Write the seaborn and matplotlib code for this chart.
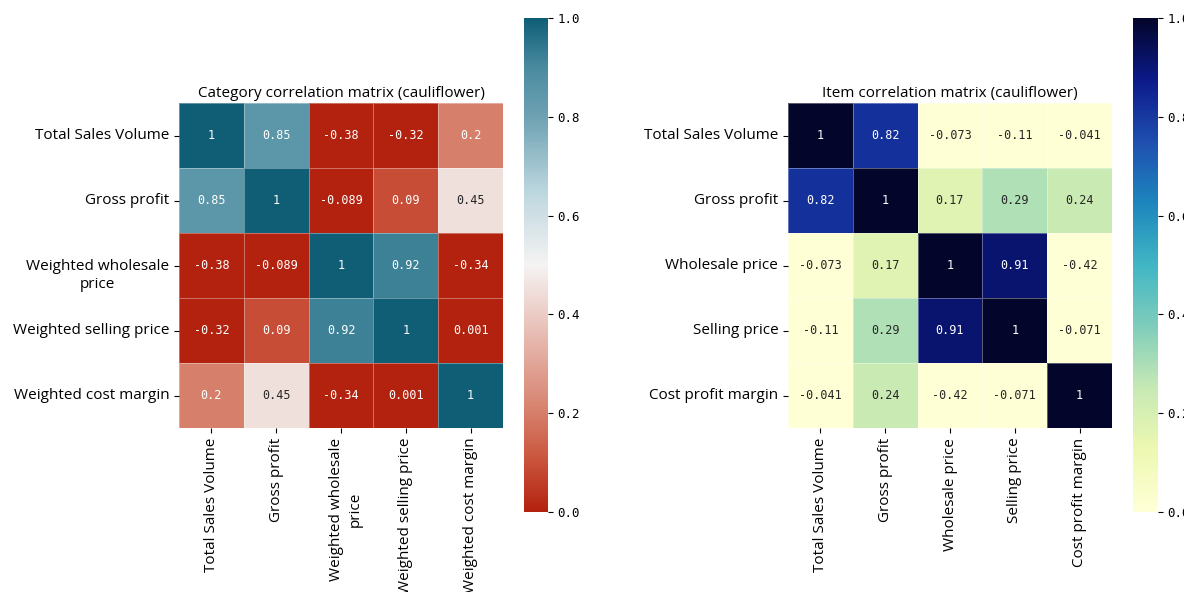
import numpy as np
import pandas as pd
import matplotlib
matplotlib.use("Agg")
import matplotlib.pyplot as plt
import matplotlib.transforms as mtransforms
import seaborn as sns
from matplotlib.colors import LinearSegmentedColormap

# Category-level correlation matrix
category_labels = [
    "Total Sales Volume",
    "Gross profit",
    "Weighted wholesale\nprice",
    "Weighted selling price",
    "Weighted cost margin",
]
category_corr = [
    [1.0, 0.85, -0.38, -0.32, 0.2],
    [0.85, 1.0, -0.089, 0.09, 0.45],
    [-0.38, -0.089, 1.0, 0.92, -0.34],
    [-0.32, 0.09, 0.92, 1.0, 0.001],
    [0.2, 0.45, -0.34, 0.001, 1.0],
]

# Item-level correlation matrix
item_labels = [
    "Total Sales Volume",
    "Gross profit",
    "Wholesale price",
    "Selling price",
    "Cost profit margin",
]
item_corr = [
    [1.0, 0.82, -0.073, -0.11, -0.041],
    [0.82, 1.0, 0.17, 0.29, 0.24],
    [-0.073, 0.17, 1.0, 0.91, -0.42],
    [-0.11, 0.29, 0.91, 1.0, -0.071],
    [-0.041, 0.24, -0.42, -0.071, 1.0],
]

cbar_ticks = [0.0, 0.2, 0.4, 0.6, 0.8, 1.0]

plt.rcParams["font.family"] = ["Open Sans", "DejaVu Sans"]

W, H = 1184, 592
fig = plt.figure(figsize=(W / 100, H / 100), dpi=100)


def box(x0, y0, x1, y1):
    return [x0 / W, 1 - y1 / H, (x1 - x0) / W, (y1 - y0) / H]


red_teal = LinearSegmentedColormap.from_list(
    "red_teal",
    [
        (0.0, "#b3220e"),
        (0.1, "#c9523a"),
        (0.2, "#d67f6b"),
        (0.35, "#e6b8ae"),
        (0.5, "#f5f3f3"),
        (0.65, "#bcd6de"),
        (0.8, "#6ea2b3"),
        (0.9, "#4a8ba0"),
        (1.0, "#0f5e76"),
    ],
)

yl_gn_bu = LinearSegmentedColormap.from_list(
    "yl_gn_bu",
    [
        (0.0, "#ffffd6"),
        (0.125, "#edf8b1"),
        (0.25, "#c7e9b4"),
        (0.375, "#7fcdbb"),
        (0.5, "#41b6c4"),
        (0.625, "#1d86bd"),
        (0.75, "#1f4fb0"),
        (0.875, "#0c1a8a"),
        (1.0, "#03052a"),
    ],
)

mono = "DejaVu Sans Mono"
annot_kws = {"fontsize": 8.5, "family": mono}


def draw(ax, cax, labels, values, cmap, title):
    df = pd.DataFrame(values, index=labels, columns=labels)
    sns.heatmap(
        df, ax=ax, cbar_ax=cax, cmap=cmap, vmin=0, vmax=1,
        annot=True, fmt=".2g", annot_kws=annot_kws,
        linewidths=0.5, linecolor=(1, 1, 1, 0.35),
        cbar_kws={"ticks": cbar_ticks},
    )
    ax.set_title(title, fontsize=11, pad=4)
    ax.tick_params(axis="both", labelsize=11, length=3.5)
    for t in ax.get_yticklabels():
        t.set_rotation(0)
        if "\n" in t.get_text():
            t.set_multialignment("center")
            t.set_linespacing(1.35)
            t.set_transform(t.get_transform() + mtransforms.ScaledTranslation(
                0, -0.10, fig.dpi_scale_trans))
    for t in ax.get_xticklabels():
        t.set_rotation(90)
        if "\n" in t.get_text():
            t.set_multialignment("center")
            t.set_linespacing(1.4)
            t.set_transform(t.get_transform() + mtransforms.ScaledTranslation(
                0.05, 0, fig.dpi_scale_trans))
    cax.tick_params(labelsize=9)
    for t in cax.get_yticklabels():
        t.set_family(mono)


ax1 = fig.add_axes(box(179, 103, 503, 428))
cax1 = fig.add_axes(box(524, 18, 548, 512))
draw(ax1, cax1, category_labels, category_corr, red_teal,
     "Category correlation matrix (cauliflower)")

ax2 = fig.add_axes(box(788, 103, 1112, 428))
cax2 = fig.add_axes(box(1133, 18, 1158, 512))
draw(ax2, cax2, item_labels, item_corr, yl_gn_bu,
     "Item correlation matrix (cauliflower)")

fig.savefig("out.png", dpi=100)
